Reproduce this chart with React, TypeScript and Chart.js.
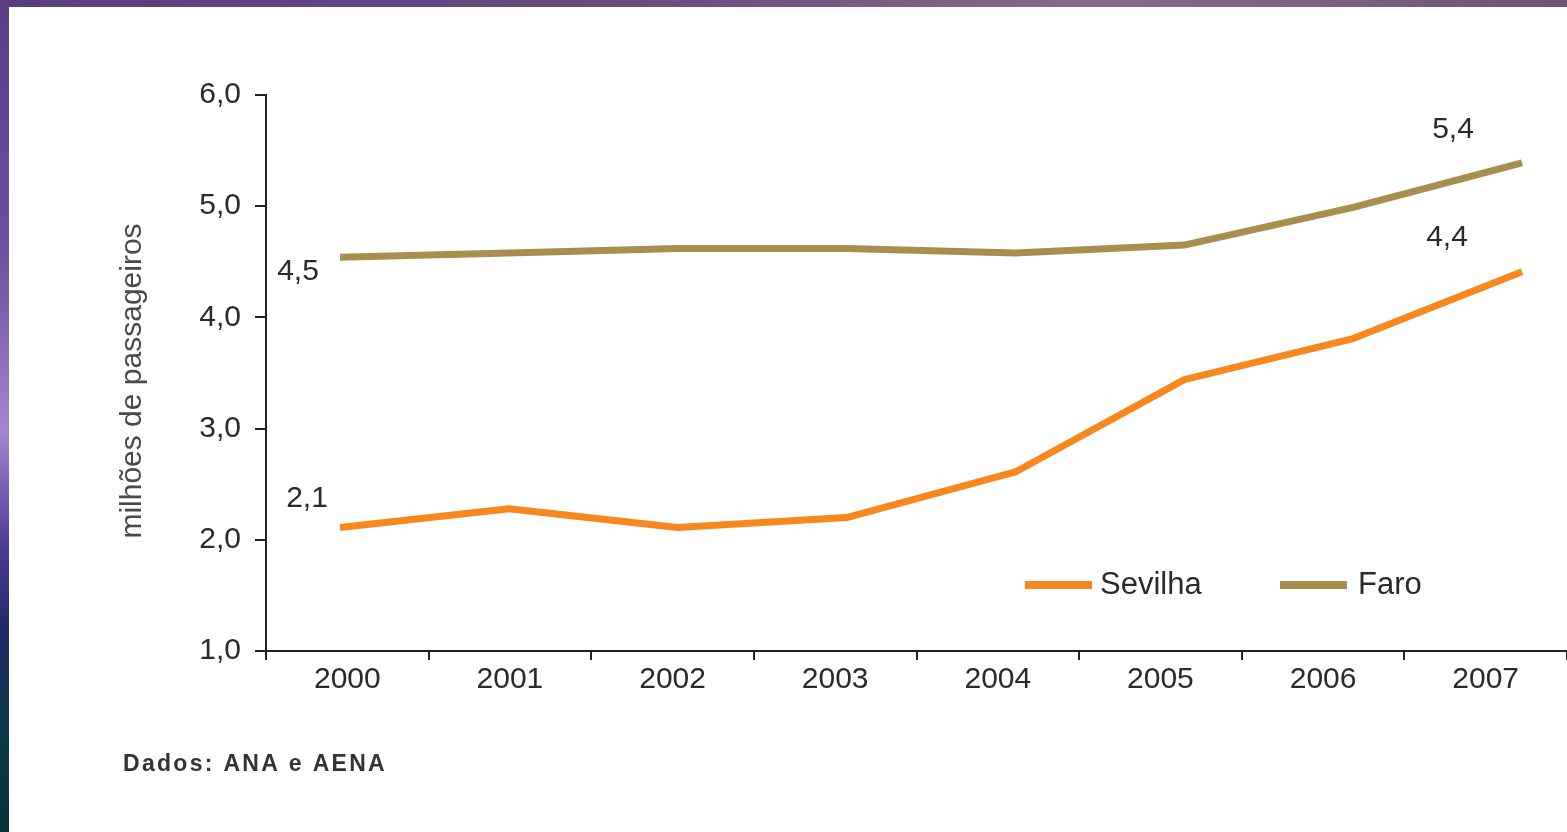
import React, { useEffect, useRef } from "react";
import { Chart, registerables } from "chart.js";

Chart.register(...registerables);

// ---- data ----
const years: string[] = ["2000", "2001", "2002", "2003", "2004", "2005", "2006", "2007"];
const seriesNames: string[] = ["Sevilha", "Faro"];
const sevilhaValues: number[] = [2.11, 2.28, 2.11, 2.2, 2.61, 3.44, 3.81, 4.41];
const faroValues: number[] = [4.54, 4.58, 4.62, 4.62, 4.58, 4.65, 4.99, 5.39];
const yTickValues: number[] = [1, 2, 3, 4, 5, 6];
const yAxisTitle = "milhões de passageiros";
const sourceNote = "Dados: ANA e AENA";

// ---- styles ----
const COLORS = ["#F7871F", "#A88F4E"];
const FONT = "'Liberation Sans', Arial, Helvetica, sans-serif";
const fmt = (v: number) => v.toFixed(1).replace(".", ",");

// label offsets (first point, last point) per dataset, in px
const LABEL_OFFSETS = [
  { first: [-33, -29], last: [-75, -34] },
  { first: [-42, 14], last: [-69, -33] },
];

const overlayPlugin = {
  id: "overlay",
  afterDatasetsDraw(chart: any) {
    const ctx = chart.ctx as CanvasRenderingContext2D;
    ctx.save();
    // end labels
    ctx.font = `30px ${FONT}`;
    ctx.fillStyle = "#2a2a2a";
    ctx.textAlign = "center";
    ctx.textBaseline = "middle";
    chart.data.datasets.forEach((ds: any, i: number) => {
      const meta = chart.getDatasetMeta(i);
      const pts = meta.data;
      const first = pts[0];
      const last = pts[pts.length - 1];
      const off = LABEL_OFFSETS[i];
      ctx.fillText(fmt(ds.data[0]), first.x + off.first[0], first.y + off.first[1]);
      ctx.fillText(fmt(ds.data[ds.data.length - 1]), last.x + off.last[0], last.y + off.last[1]);
    });
    // legend inside the plot
    const legendItems = [
      { x0: 1016, x1: 1083, tx: 1091 },
      { x0: 1271, x1: 1338, tx: 1349 },
    ];
    const ly = 578;
    chart.data.datasets.forEach((ds: any, i: number) => {
      const it = legendItems[i];
      ctx.strokeStyle = ds.borderColor;
      ctx.lineWidth = 8;
      ctx.lineCap = "butt";
      ctx.beginPath();
      ctx.moveTo(it.x0, ly);
      ctx.lineTo(it.x1, ly);
      ctx.stroke();
      ctx.fillStyle = "#2a2a2a";
      ctx.textAlign = "left";
      ctx.textBaseline = "middle";
      ctx.font = `31px ${FONT}`;
      ctx.fillText(ds.label, it.tx, ly);
    });
    // y-axis title
    ctx.save();
    ctx.translate(124, 374);
    ctx.rotate(-Math.PI / 2);
    ctx.font = `30px ${FONT}`;
    ctx.fillStyle = "#4a4a4a";
    ctx.textAlign = "center";
    ctx.textBaseline = "middle";
    ctx.fillText(yAxisTitle, 0, 0);
    ctx.restore();
    // source note
    ctx.font = `bold 23px ${FONT}`;
    (ctx as any).letterSpacing = "2.3px";
    ctx.fillStyle = "#333";
    ctx.textAlign = "left";
    ctx.textBaseline = "middle";
    ctx.fillText(sourceNote, 114, 758);
    ctx.restore();
  },
};

export default function App() {
  const canvasRef = useRef<HTMLCanvasElement | null>(null);

  useEffect(() => {
    if (!canvasRef.current) return;
    Chart.defaults.font.family = FONT;
    const chart = new Chart(canvasRef.current, {
      type: "line",
      data: {
        labels: years,
        datasets: [
          {
            label: seriesNames[0],
            data: sevilhaValues,
            borderColor: COLORS[0],
            backgroundColor: COLORS[0],
            borderWidth: 7,
            pointRadius: 0,
            tension: 0,
            borderJoinStyle: "round",
            xAxisID: "xd",
            yAxisID: "y",
          },
          {
            label: seriesNames[1],
            data: faroValues,
            borderColor: COLORS[1],
            backgroundColor: COLORS[1],
            borderWidth: 7,
            pointRadius: 0,
            tension: 0,
            borderJoinStyle: "round",
            xAxisID: "xd",
            yAxisID: "y",
          },
        ],
      },
      options: {
        animation: false,
        responsive: true,
        maintainAspectRatio: false,
        layout: { padding: { left: 0, top: 88, right: 0, bottom: 121 } },
        plugins: {
          legend: { display: false },
          tooltip: { enabled: false },
        },
        scales: {
          x: {
            type: "category",
            position: "bottom",
            offset: true,
            grid: {
              offset: true,
              drawOnChartArea: false,
              drawTicks: true,
              tickLength: 9,
              color: "#222",
              lineWidth: 2,
            },
            border: { display: true, color: "#222", width: 2 },
            ticks: {
              color: "#2a2a2a",
              font: { size: 30, family: FONT },
              maxRotation: 0,
              autoSkip: false,
              padding: 2,
            },
            afterFit: (s: any) => {
              s.height = 60;
            },
          },
          xd: {
            type: "linear",
            display: false,
            min: 1999.5618,
            max: 2007.2665,
          },
          y: {
            type: "linear",
            position: "left",
            min: yTickValues[0],
            max: yTickValues[yTickValues.length - 1],
            afterBuildTicks: (s: any) => {
              s.ticks = yTickValues.map((v) => ({ value: v }));
            },
            grid: {
              drawOnChartArea: false,
              drawTicks: true,
              tickLength: 11,
              color: "#222",
              lineWidth: 2,
            },
            border: { display: true, color: "#222", width: 2 },
            ticks: {
              color: "#2a2a2a",
              font: { size: 30, family: FONT },
              padding: 14,
              callback: (v: any) => fmt(Number(v)),
            },
            afterFit: (s: any) => {
              s.width = 257;
            },
          },
        },
      },
      plugins: [overlayPlugin],
    });
    return () => chart.destroy();
  }, []);

  return (
    <div
      style={{
        position: "fixed",
        inset: 0,
        background:
          "linear-gradient(to bottom, #5a3d84 0%, #6e4f9c 30%, #a584d0 52%, #4a3a90 66%, #1d2a66 76%, #0a3a4a 88%, #033238 100%)",
      }}
    >
      <div
        style={{
          position: "absolute",
          left: 0,
          top: 0,
          right: 0,
          height: 7,
          background: "linear-gradient(to right, #5a3d7e 0%, #6a4a80 40%, #8a6a8c 70%, #6e5578 100%)",
        }}
      />
      <div
        style={{
          position: "absolute",
          left: 9,
          top: 7,
          width: 1558,
          height: 825,
          background: "#fff",
        }}
      >
        <canvas ref={canvasRef} />
      </div>
    </div>
  );
}
